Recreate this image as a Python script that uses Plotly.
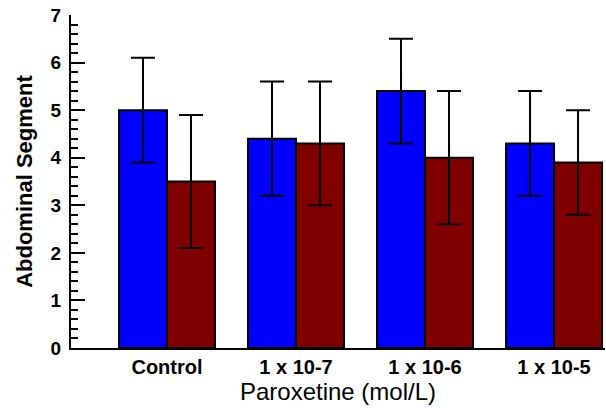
import plotly.graph_objects as go

categories = ["Control", "1 x 10-7", "1 x 10-6", "1 x 10-5"]
blue_values = [5.0, 4.4, 5.4, 4.3]
blue_errors = [1.1, 1.2, 1.1, 1.1]
red_values = [3.5, 4.3, 4.0, 3.9]
red_errors = [1.4, 1.3, 1.4, 1.1]
y_ticks = [0, 1, 2, 3, 4, 5, 6, 7]

fig = go.Figure()
for vals, errs, col in [(blue_values, blue_errors, "#0000FF"),
                        (red_values, red_errors, "#800000")]:
    fig.add_trace(go.Bar(
        x=categories, y=vals,
        marker=dict(color=col, line=dict(color="black", width=2)),
        error_y=dict(type="data", array=errs, visible=True,
                     color="black", thickness=2, width=12),
        showlegend=False,
    ))

font_family = "Liberation Sans, Arial, sans-serif"
fig.update_layout(
    width=606, height=408,
    margin=dict(l=71, r=1, t=15, b=60),
    paper_bgcolor="white", plot_bgcolor="white",
    barmode="group", bargap=0.256, bargroupgap=0,
    font=dict(family=font_family, color="black"),
)
fig.update_xaxes(
    type="category", range=[-0.744, 3.395], automargin=False,
    showline=True, linecolor="black", linewidth=2,
    ticks="", showgrid=False, zeroline=False,
    tickfont=dict(size=20, family=font_family, weight="bold"),
    title=dict(text="Paroxetine (mol/L)", font=dict(size=24, family=font_family), standoff=2),
)
fig.update_yaxes(
    range=[0, 7], tickvals=y_ticks, automargin=False,
    showline=True, linecolor="black", linewidth=2,
    ticks="inside", ticklen=14, tickwidth=2, tickcolor="black",
    minor=dict(dtick=0.2, ticks="inside", ticklen=7, tickwidth=2, tickcolor="black", showgrid=False),
    showgrid=False, zeroline=False,
    tickfont=dict(size=19, family=font_family, weight="bold"),
    ticklabelstandoff=4,
    title=dict(text="Abdominal Segment", font=dict(size=22, family=font_family, weight="bold"), standoff=12),
)

fig.write_html("out.html", config={"displayModeBar": False},
               post_script="document.body.style.margin='0';")
